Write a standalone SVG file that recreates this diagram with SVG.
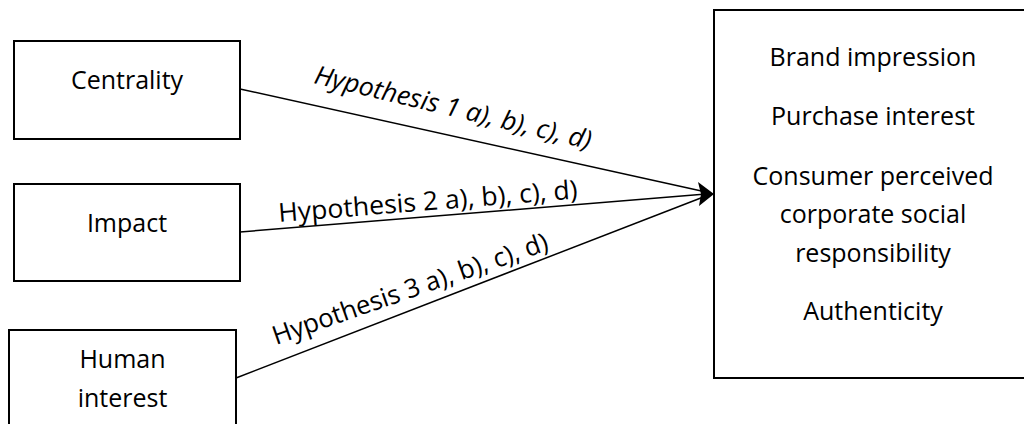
<svg xmlns="http://www.w3.org/2000/svg" width="1024" height="424" viewBox="0 0 1024 424">
  <style>
    .box { fill: #ffffff; stroke: #000000; stroke-width: 2; }
    .txt { font-family: "Open Sans", "Liberation Sans", sans-serif; font-size: 25px; fill: #000000; }
    .lbl { font-family: "Open Sans", "Liberation Sans", sans-serif; font-size: 26px; fill: #000000; }
    .mid { text-anchor: middle; }
    .conn { stroke: #000000; stroke-width: 1.5; fill: none; }
  </style>
  <rect width="1024" height="424" fill="#ffffff"/>
  <g id="node-centrality">
    <rect class="box" x="14" y="41" width="226" height="98"/>
    <text class="txt mid" x="127" y="89">Centrality</text>
  </g>
  <g id="node-impact">
    <rect class="box" x="14" y="184" width="226" height="97"/>
    <text class="txt mid" x="127" y="232">Impact</text>
  </g>
  <g id="node-human-interest">
    <rect class="box" x="9" y="330" width="227" height="110"/>
    <text class="txt mid" x="122.5" y="368">Human</text>
    <text class="txt mid" x="122.5" y="407">interest</text>
  </g>
  <g id="node-outcomes">
    <rect class="box" x="714" y="10" width="330" height="368"/>
    <text class="txt mid" x="873" y="66">Brand impression</text>
    <text class="txt mid" x="873" y="125">Purchase interest</text>
    <text class="txt mid" x="873" y="185">Consumer perceived</text>
    <text class="txt mid" x="873" y="223">corporate social</text>
    <text class="txt mid" x="873" y="262">responsibility</text>
    <text class="txt mid" x="873" y="320">Authenticity</text>
  </g>
  <g id="connectors">
    <line class="conn" x1="240" y1="89" x2="706" y2="192"/>
    <line class="conn" x1="240" y1="232" x2="706" y2="194"/>
    <line class="conn" x1="236" y1="378" x2="706" y2="196"/>
    <polygon points="714,194 698,182 701,194 699,206" fill="#000000"/>
    <text class="lbl" font-style="italic" textLength="284" lengthAdjust="spacingAndGlyphs" transform="translate(313,83) rotate(13.5)">Hypothesis 1 a), b), c), d)</text>
    <text class="lbl" textLength="300" lengthAdjust="spacingAndGlyphs" transform="translate(279,222) rotate(-4.5)">Hypothesis 2 a), b), c), d)</text>
    <text class="lbl" textLength="290" lengthAdjust="spacingAndGlyphs" transform="translate(276,345) rotate(-19.2)">Hypothesis 3 a), b), c), d)</text>
  </g>
</svg>
